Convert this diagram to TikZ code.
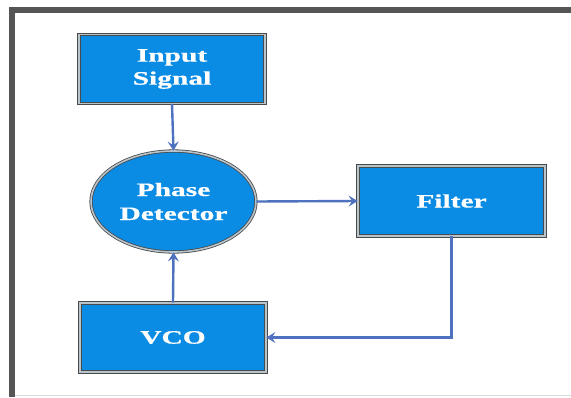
\documentclass[tikz,border=0pt]{standalone}
\usepackage{fontspec}
\setmainfont{Liberation Serif}
\newfontfamily\boxfont[FakeStretch=1.55,FakeBold=0.6]{Liberation Serif Bold}
\usetikzlibrary{arrows.meta,shapes.geometric}
\definecolor{boxblue}{HTML}{0A8BE4}
\definecolor{arrowblue}{HTML}{4F72C0}
\definecolor{framegray}{HTML}{555555}
\definecolor{edgegray}{HTML}{4A4A4A}
\definecolor{rimgray}{HTML}{B8C4CC}
\tikzset{
  x=1pt, y=-1pt,
  blk/.style={draw=edgegray, line width=0.8pt, double=rimgray, double distance=1.6pt,
    fill=boxblue, text=white, font=\boxfont\fontsize{19}{23}\selectfont,
    align=center, inner sep=0pt},
  rbox/.style={blk, rectangle, minimum width=186pt, minimum height=69pt},
  ell/.style={blk, ellipse, minimum width=165pt, minimum height=101pt},
  conn/.style={draw=arrowblue, line width=2.4pt,
    -{Stealth[length=9pt,width=11pt,inset=3.5pt]}}
}
\begin{document}
\begin{tikzpicture}
\useasboundingbox (0,0) rectangle (571,397);
\fill[white] (0,0) rectangle (571,397);
% frame
\draw[framegray, line width=6pt] (12,397) -- (12,10) -- (571,10);
\draw[gray!30, line width=1.5pt] (15,395.5) -- (571,395.5);
% nodes
\node[rbox] (inp) at (172,69) {Input\\Signal};
\node[ell] (det) at (173.5,201.5) {Phase\\[1pt]Detector};
\node[rbox, minimum width=187pt, minimum height=70pt] (fil) at (451.5,201) {Filter};
\node[rbox] (vco) at (173,337.5) {VCO};
% connectors
\draw[conn] (inp.south) -- (det.north);
\draw[conn] (det.east) -- (fil.west);
\draw[conn] (vco.north) -- (det.south);
\draw[conn] (fil.south) |- (vco.east);
\end{tikzpicture}
\end{document}
